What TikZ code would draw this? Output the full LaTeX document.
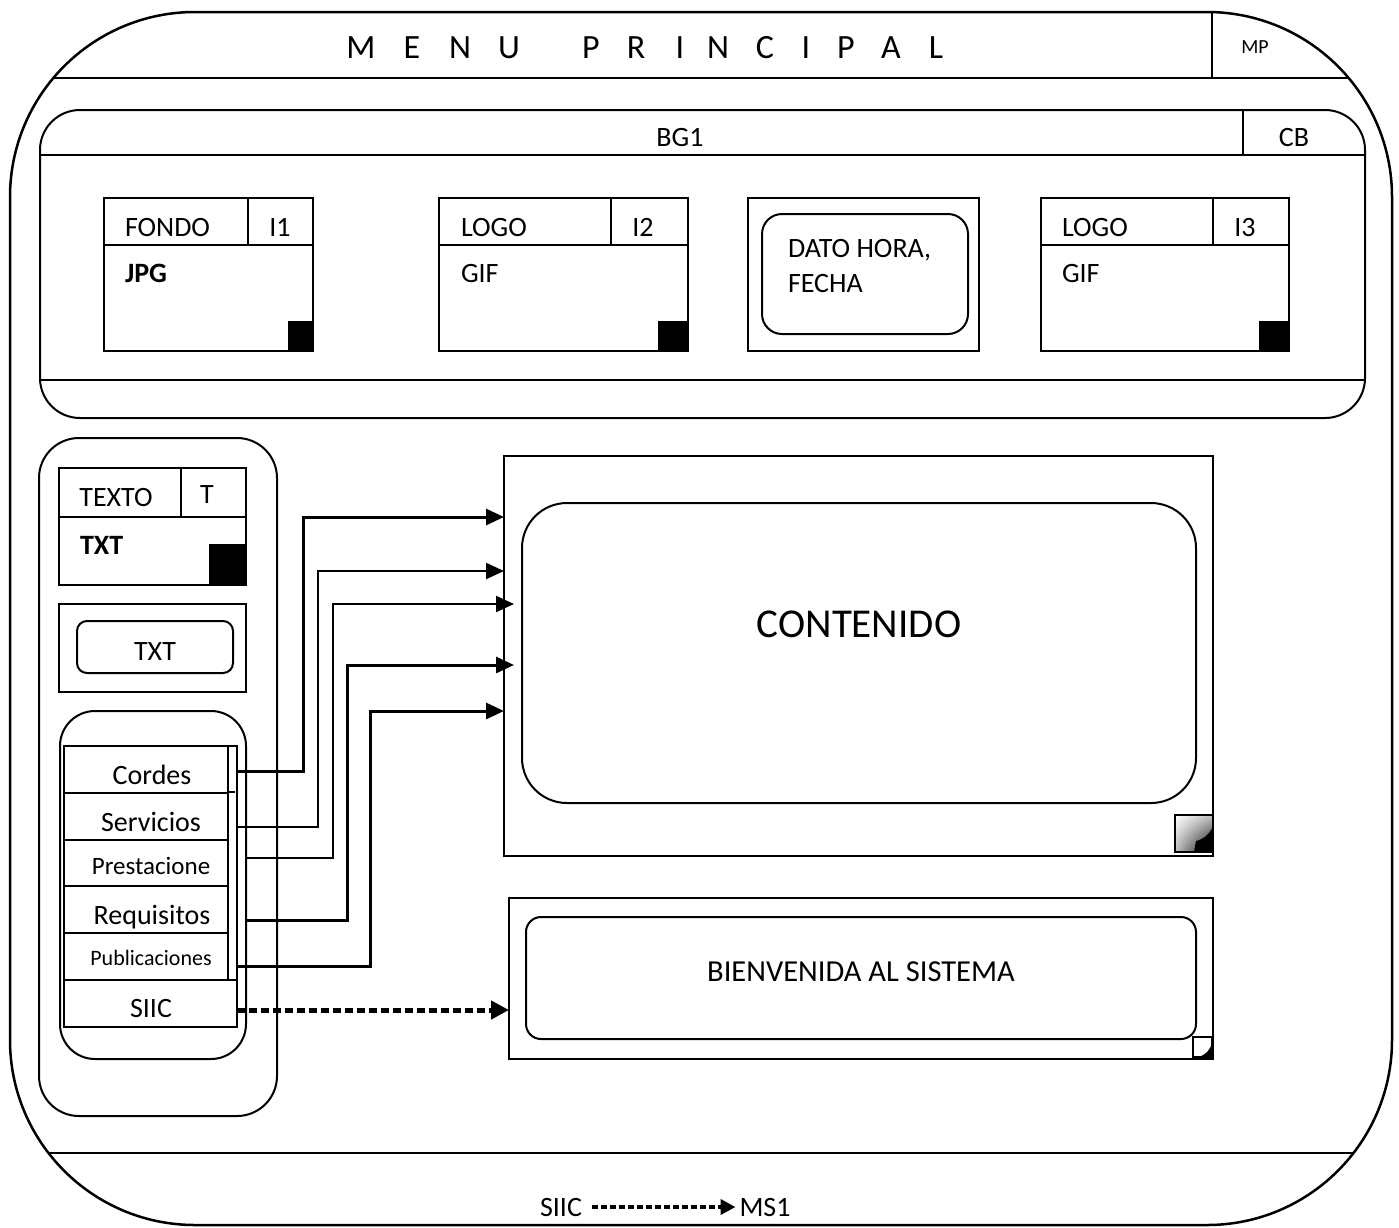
\documentclass[tikz,border=0pt]{standalone}
\usepackage{fontspec}
\setmainfont{Carlito}
\usetikzlibrary{arrows.meta,shadings}
\begin{document}
\begin{tikzpicture}[x=1pt,y=-1pt,
  every node/.style={inner sep=0pt, outer sep=0pt},
  ln/.style={line width=2pt},
  boxn/.style={draw, line width=2pt, rectangle},
  txt/.style={font=\fontsize{28}{32}\selectfont, text height=18pt, text depth=0pt},
  btxt/.style={font=\fontsize{28}{32}\selectfont\bfseries, text height=18pt, text depth=0pt},
  smtxt/.style={font=\fontsize{25}{30}\selectfont, text height=16pt, text depth=0pt},
  xstxt/.style={font=\fontsize{22}{26}\selectfont, text height=14pt, text depth=0pt},
  bigtxt/.style={font=\fontsize{41}{46}\selectfont, text height=26pt, text depth=0pt},
  medtxt/.style={font=\fontsize{30.5}{34}\selectfont, text height=19.5pt, text depth=0pt},
  ttl/.style={font=\fontsize{34}{40}\selectfont, text height=22pt, text depth=0pt},
  conn/.style={line width=3pt, -{Triangle[length=18pt,width=16pt]}},
  connthin/.style={line width=2.2pt, -{Triangle[length=18pt,width=16pt]}},
  dconn/.style={line width=5pt, dash pattern=on 8pt off 4pt, -{Triangle[length=18pt,width=18pt]}},
]
\useasboundingbox (0,0) rectangle (1399,1227);

% ---------- outer frame ----------
\node[boxn, line width=2.5pt, rounded corners=185pt, minimum width=1382pt, minimum height=1213pt] (outer) at (701,618.5) {};
\draw[ln] (53,78) -- (1349,78);
\draw[ln] (1212,12) -- (1212,78);
\draw[ln] (49,1153) -- (1353,1153);
\foreach \l/\x [count=\i] in {M/361,E/412,N/460,U/509,P/591,R/636,I/680,N/718,C/765,I/806,P/846,A/891,L/936}
  \node[ttl] (t\i) at (\x,47) {\l};
\node[font=\fontsize{20}{24}\selectfont, text height=13pt, text depth=0pt] (mp) at (1255,47) {MP};

% ---------- BG1 panel ----------
\node[boxn, rounded corners=40pt, minimum width=1325pt, minimum height=308pt] (bg) at (702.5,264) {};
\draw[ln] (40,155) -- (1365,155);
\draw[ln] (40,380) -- (1365,380);
\draw[ln] (1243,110) -- (1243,155);
\node[txt] (bg1) at (680,137) {BG1};
\node[txt] (cb) at (1294,137) {CB};

% image 1
\node[boxn, minimum width=209pt, minimum height=153pt] (f1) at (208.5,274.5) {};
\draw[ln] (104,245) -- (313,245);
\draw[ln] (248,198) -- (248,245);
\fill (288,321) rectangle (313,351);
\node[txt, anchor=west] (fondo) at (125,227) {FONDO};
\node[txt] (i1) at (280,227) {I1};
\node[btxt, anchor=west] (jpg) at (125,273) {JPG};

% image 2
\node[boxn, minimum width=249pt, minimum height=153pt] (f2) at (563.5,274.5) {};
\draw[ln] (439,245) -- (688,245);
\draw[ln] (611,198) -- (611,245);
\fill (658,321) rectangle (688,351);
\node[txt, anchor=west] (logo2) at (461,227) {LOGO};
\node[txt] (i2) at (643,227) {I2};
\node[txt, anchor=west] (gif2) at (461,273) {GIF};

% date / time
\node[boxn, minimum width=231pt, minimum height=153pt] (f3) at (863.5,274.5) {};
\node[boxn, rounded corners=20pt, minimum width=206pt, minimum height=120pt] (f3in) at (865,274) {};
\node[txt, anchor=west] (dato) at (788,248) {DATO HORA,};
\node[txt, anchor=west] (fecha) at (788,283) {FECHA};

% image 4
\node[boxn, minimum width=248pt, minimum height=153pt] (f4) at (1165,274.5) {};
\draw[ln] (1041,245) -- (1289,245);
\draw[ln] (1213,198) -- (1213,245);
\fill (1259,321) rectangle (1289,351);
\node[txt, anchor=west] (logo4) at (1062,227) {LOGO};
\node[txt] (i3) at (1245,227) {I3};
\node[txt, anchor=west] (gif4) at (1062,273) {GIF};

% ---------- left panel ----------
\node[boxn, rounded corners=40pt, minimum width=238pt, minimum height=678pt] (lp) at (158,777) {};
\node[boxn, minimum width=187pt, minimum height=117pt] (tx1) at (152.5,526.5) {};
\draw[ln] (59,517) -- (246,517);
\draw[ln] (181,468) -- (181,517);
\fill (209,544) rectangle (246,585);
\node[txt] (texto) at (116,497) {TEXTO};
\node[txt] (tt) at (207,494) {T};
\node[btxt, anchor=west] (txtb) at (80,545) {TXT};

\node[boxn, minimum width=187pt, minimum height=88pt] (tx2) at (152.5,648) {};
\node[boxn, rounded corners=10pt, minimum width=156pt, minimum height=52pt] (tx2in) at (155,647) {};
\node[txt] (txt2) at (155,651) {TXT};

\node[boxn, rounded corners=35pt, minimum width=186pt, minimum height=348pt] (menu) at (153,885) {};
\node[boxn, minimum width=173pt, minimum height=281pt] (list) at (150.5,886.5) {};
\node[boxn, minimum width=164pt, minimum height=47pt] (cordes) at (146,769.5) {};
\node[boxn, minimum width=164pt, minimum height=47pt] (servicios) at (146,816.5) {};
\node[boxn, minimum width=164pt, minimum height=46pt] (prest) at (146,863) {};
\node[boxn, minimum width=164pt, minimum height=47pt] (requis) at (146,909.5) {};
\node[boxn, minimum width=164pt, minimum height=47pt] (public) at (146,956.5) {};
\node[boxn, minimum width=173pt, minimum height=47pt] (siic) at (150.5,1003.5) {};
\draw[line width=1.5pt] (229,792) -- (235,792);
\node[txt] (lcordes) at (152,775) {Cordes};
\node[txt] (lserv) at (151,822) {Servicios};
\node[smtxt] (lprest) at (151,866) {Prestacione};
\node[txt] (lreq) at (152,915) {Requisitos};
\node[xstxt] (lpub) at (151,958) {Publicaciones};
\node[txt] (lsiic) at (151,1008) {SIIC};

% ---------- content ----------
\node[boxn, minimum width=709pt, minimum height=400pt] (cont) at (858.5,656) {};
\node[boxn, rounded corners=45pt, minimum width=674pt, minimum height=300pt] (contin) at (859,653) {};
\node[bigtxt] (contenido) at (859,624) {CONTENIDO};
\shade[upper left=white, upper right=gray!50, lower left=gray!50, lower right=black] (1175,815) rectangle (1213,852);
\fill (1194,852) -- (1196,841) .. controls (1204,839) and (1210,834) .. (1213,826) -- (1213,852) -- cycle;
\draw[line width=2pt] (1175,815) rectangle (1213,852);

\node[boxn, minimum width=704pt, minimum height=161pt] (bien) at (861,978.5) {};
\node[boxn, rounded corners=15pt, minimum width=670pt, minimum height=122pt] (bienin) at (861,978) {};
\node[medtxt] (bienv) at (861,972) {BIENVENIDA AL SISTEMA};
\fill[white] (1193,1037) rectangle (1212,1057);
\fill (1198,1057) .. controls (1206,1055) and (1210,1050) .. (1212,1043) -- (1212,1057) -- cycle;
\draw[line width=1.8pt] (1193,1037) rectangle (1212,1057);

% ---------- connectors ----------
\draw[conn] (list.east |- 0,771) -| (303,517) -- (cont.west |- 0,517);
\draw[connthin] (list.east |- 0,827) -| (318,571) -- (cont.west |- 0,571);
\draw[connthin] (menu.east |- 0,858) -| (333,604) -- ([xshift=10pt]cont.west |- 0,604);
\draw[conn] (menu.east |- 0,920) -| (347,665) -- ([xshift=10pt]cont.west |- 0,665);
\draw[conn] (list.east |- 0,966) -| (370,711) -- (cont.west |- 0,711);
\draw[dconn] (siic.east |- 0,1010) -- (bien.west |- 0,1010);

% ---------- legend ----------
\node[txt] (siicl) at (561,1207) {SIIC};
\node[txt] (ms1) at (765,1207) {MS1};
\draw[line width=3.8pt, dash pattern=on 6pt off 3pt, -{Triangle[length=15pt,width=15pt]}, shorten <=10pt, shorten >=4pt] (siicl.east) -- (ms1.west);
\end{tikzpicture}
\end{document}
